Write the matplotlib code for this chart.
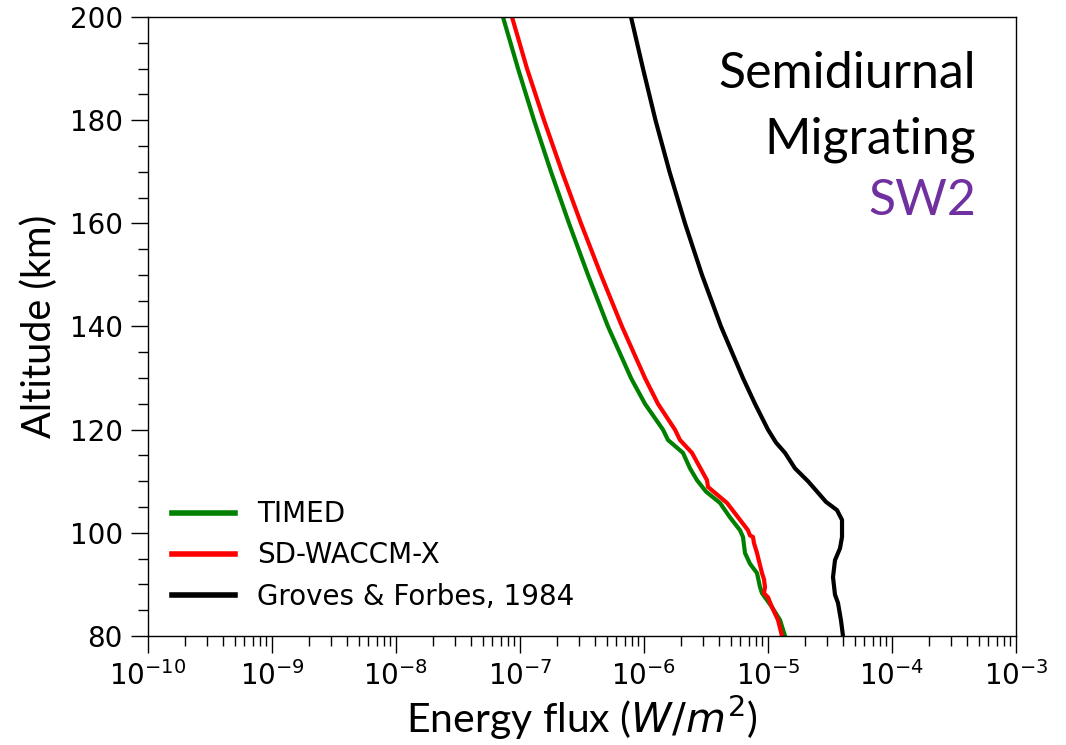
import matplotlib
matplotlib.use("Agg")
import matplotlib.pyplot as plt
import numpy as np

# TIMED
alt_timed = [200, 190, 180, 170, 160, 150, 140, 130, 125, 120, 118, 115.5, 112.5, 110.2,
             108, 105.8, 103, 100.5, 99.2, 96.1, 94, 92.2, 89.5, 88.3, 85.6, 83.1, 80]
flux_timed = [7.29e-8, 9.64e-8, 1.297e-7, 1.778e-7, 2.485e-7, 3.535e-7, 5.125e-7,
              7.858e-7, 1.019e-6, 1.423e-6, 1.562e-6, 2.063e-6, 2.350e-6, 2.676e-6,
              3.162e-6, 4.102e-6, 4.937e-6, 5.946e-6, 6.286e-6, 6.523e-6, 7.158e-6,
              8.154e-6, 8.621e-6, 8.947e-6, 1.077e-5, 1.250e-5, 1.372e-5]

# SD-WACCM-X
alt_waccm = [200, 190, 180, 170, 160, 150, 140, 130, 125, 120, 118, 115.5, 110.2, 108.9,
             105.8, 100.5, 99.5, 99.2, 98, 96.1, 92.2, 91, 89.5, 88.3, 87.5, 85.6, 83.1, 80]
flux_waccm = [8.62e-8, 1.139e-7, 1.562e-7, 2.182e-7, 3.104e-7, 4.500e-7, 6.646e-7,
              1.019e-6, 1.297e-6, 1.778e-6, 1.951e-6, 2.438e-6, 3.222e-6, 3.282e-6,
              4.671e-6, 6.898e-6, 7.158e-6, 7.568e-6, 7.711e-6, 8.154e-6, 8.947e-6,
              9.285e-6, 9.458e-6, 9.285e-6, 1.0e-5, 1.077e-5, 1.204e-5, 1.297e-5]

# Groves & Forbes, 1984
alt_gf = [200, 190, 180, 170, 160, 150, 140, 130, 125, 120, 117.5, 115.5, 112.5, 110,
          108.9, 106, 104.4, 102.5, 99.2, 97, 94.7, 91.4, 88, 86.4, 83, 80]
flux_gf = [7.858e-7, 9.816e-7, 1.238e-6, 1.606e-6, 2.141e-6, 2.936e-6, 4.178e-6,
           6.286e-6, 7.858e-6, 1.0e-5, 1.160e-5, 1.372e-5, 1.651e-5, 2.102e-5, 2.306e-5,
           2.936e-5, 3.601e-5, 3.953e-5, 3.953e-5, 3.808e-5, 3.470e-5, 3.344e-5,
           3.470e-5, 3.669e-5, 3.879e-5, 4.026e-5]

series_labels = ["TIMED", "SD-WACCM-X", "Groves & Forbes, 1984"]
series_colors = ["green", "red", "black"]

fig = plt.figure(figsize=(10.66, 7.45), dpi=100)
ax = fig.add_axes([0.1388, 0.1463, 0.8143, 0.8309])

for a, f, lab, c in zip([alt_timed, alt_waccm, alt_gf],
                        [flux_timed, flux_waccm, flux_gf],
                        series_labels, series_colors):
    ax.plot(f, a, color=c, lw=3, label=lab, solid_joinstyle="round")

ax.set_xscale("log")
ax.set_xlim(1e-10, 1e-3)
ax.set_ylim(80, 200)
ax.set_yticks([80, 100, 120, 140, 160, 180, 200])
ax.set_yticks(np.arange(80, 201, 5), minor=True)
ax.xaxis.set_minor_locator(matplotlib.ticker.LogLocator(base=10, subs=np.arange(2, 10), numticks=20))
ax.xaxis.set_minor_formatter(matplotlib.ticker.NullFormatter())

ax.tick_params(which="major", length=12, width=1.0, labelsize=20, pad=6)
ax.tick_params(which="minor", length=7, width=1.0)
for s in ax.spines.values():
    s.set_linewidth(1.0)

leg = ax.legend(loc="lower left", frameon=False, fontsize=20, handlelength=2.27,
                handletextpad=0.8, borderaxespad=0.45, labelspacing=0.47,
                bbox_to_anchor=(0.0, 0.003))
for h in leg.get_lines():
    h.set_linewidth(4)

ax.text(0.954, 0.885, "Semidiurnal", transform=ax.transAxes, ha="right",
        va="baseline", fontsize=36, family="Lato")
ax.text(0.954, 0.780, "Migrating", transform=ax.transAxes, ha="right",
        va="baseline", fontsize=36, family="Lato")
ax.text(0.954, 0.680, "SW2", transform=ax.transAxes, ha="right",
        va="baseline", fontsize=36, family="Lato", color="#7030A0")

ax.set_ylabel("Altitude (km)", fontsize=28.5, family="Lato", labelpad=10)
ax.yaxis.set_label_coords(-0.1035, 0.5)
fig.text(0.546, 0.036, r"Energy flux ($W/m^2$)", ha="center", va="center",
         fontsize=29.5, family="Lato")

fig.savefig("out.png", dpi=100)
